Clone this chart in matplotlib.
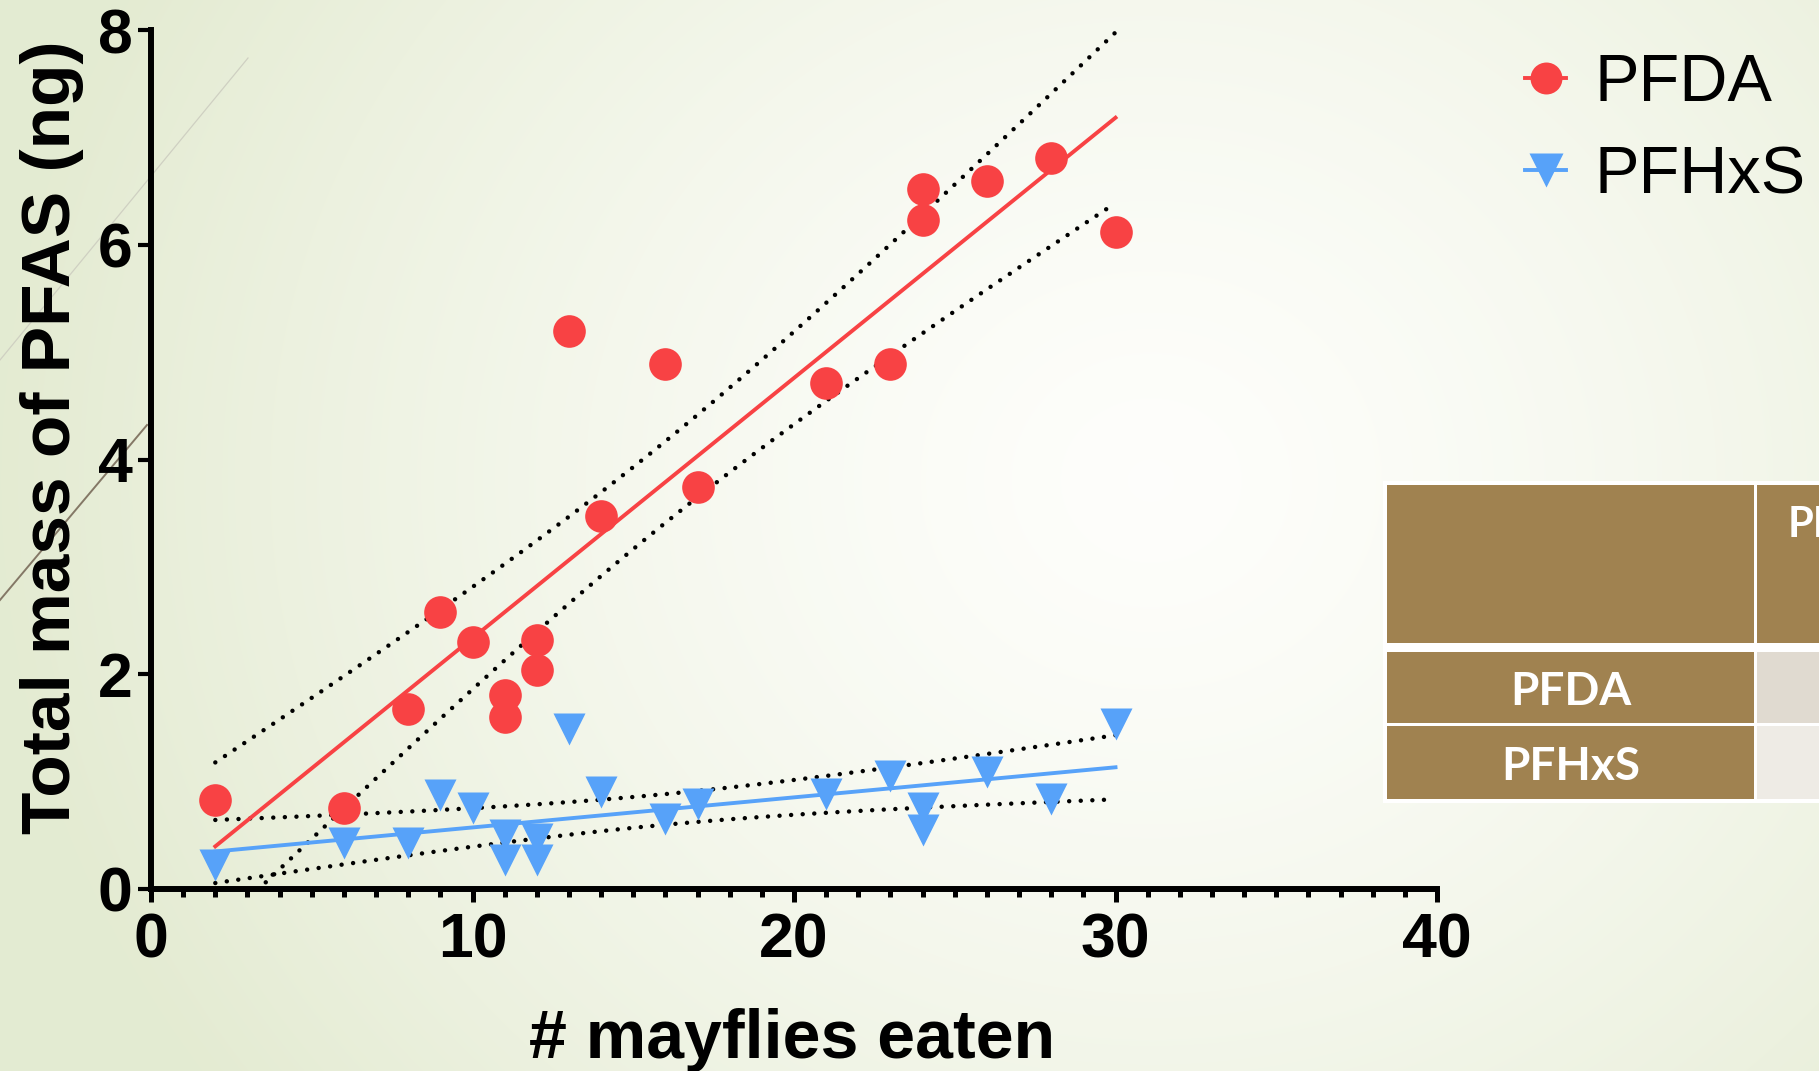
import numpy as np
import matplotlib
matplotlib.use("Agg")
import matplotlib.pyplot as plt
from matplotlib.lines import Line2D
from matplotlib.patches import Rectangle

# ---------------- data ----------------
mayflies = [2, 6, 8, 9, 10, 11, 11, 12, 12, 13, 14, 16, 17, 21, 23, 24, 24, 26, 28, 30]
pfda = [0.83, 0.75, 1.68, 2.58, 2.30, 1.81, 1.60, 2.32, 2.04, 5.20,
        3.47, 4.89, 3.74, 4.71, 4.885, 6.52, 6.23, 6.59, 6.81, 6.12]
pfhxs = [0.22, 0.43, 0.43, 0.88, 0.75, 0.50, 0.267, 0.47, 0.267, 1.49,
         0.90, 0.65, 0.79, 0.885, 1.05, 0.754, 0.546, 1.09, 0.835, 1.54]
series_names = ["PFDA", "PFHxS"]
x_ticks = [0, 10, 20, 30, 40]
y_ticks = [0, 2, 4, 6, 8]
x_label = "# mayflies eaten"
y_label = "Total mass of PFAS (ng)"
table_header = "PF"
table_rows = ["PFDA", "PFHxS"]
T_CRIT = 2.1009  # two-sided 95 %, df = 18

RED = "#F84244"
BLUE = "#57A2F9"

W, H = 1819, 1071
fig = plt.figure(figsize=(W / 100, H / 100), dpi=100)

# ---------------- slide background ----------------
bg = fig.add_axes([0, 0, 1, 1], zorder=-10)
yy, xx = np.mgrid[0:H, 0:W]
d = np.hypot(xx - 1150, (yy - 480) * 1.1) / 1150
t = np.clip(d, 0, 1) ** 1.4
c_center = np.array([0.995, 0.996, 0.985])
c_edge = np.array([0.894, 0.922, 0.824])
img = c_center + (c_edge - c_center) * t[..., None]
bg.imshow(img, extent=[0, W, H, 0], aspect="auto", interpolation="bilinear")
bg.set_xlim(0, W)
bg.set_ylim(H, 0)
bg.axis("off")
bg.plot([0, 248], [360, 58], color="#cfd0c2", lw=0.9)
bg.plot([0, 147], [600, 425], color="#847866", lw=1.4)

# ---------------- table (partially visible) ----------------
brown = "#A08250"
bg.add_patch(Rectangle((1383, 481), 460, 322, color="white", lw=0))
cells = [(1387, 485, 367, 158, brown), (1757, 485, 90, 158, brown),
         (1387, 652, 367, 71, brown), (1757, 652, 90, 71, "#E0DAD0"),
         (1387, 726, 367, 73, brown), (1757, 726, 90, 73, "#EEEBE5")]
for (cx, cy, cw, ch, cc) in cells:
    bg.add_patch(Rectangle((cx, cy), cw, ch, color=cc, lw=0))
bg.text(1788, 537, table_header, color="white", fontsize=30, fontweight="bold",
        family="Lato", ha="left", va="baseline")
for name, base in zip(table_rows, [705, 780]):
    bg.text(1571, base, name, color="white", fontsize=33, fontweight="bold",
            family="Lato", ha="center", va="baseline")

# ---------------- chart ----------------
ax = fig.add_axes([151 / W, 1 - 889 / H, (1437 - 151) / W, (889 - 30) / H])
ax.set_facecolor("none")


def fit_band(x, y):
    x = np.asarray(x, float)
    y = np.asarray(y, float)
    b, a = np.polyfit(x, y, 1)
    xs = np.linspace(x.min(), x.max(), 300)
    n = len(x)
    s = np.sqrt(np.sum((y - (a + b * x)) ** 2) / (n - 2))
    sxx = np.sum((x - x.mean()) ** 2)
    half = T_CRIT * s * np.sqrt(1 / n + (xs - x.mean()) ** 2 / sxx)
    fit = a + b * xs
    return xs, fit, fit - half, fit + half


dot_style = dict(color="black", lw=3.2, linestyle=(0, (0.01, 2.6)),
                 dash_capstyle="round", zorder=2)
for yv, col in [(pfda, RED), (pfhxs, BLUE)]:
    xs, fit, lo, hi = fit_band(mayflies, yv)
    ax.plot(xs, lo, **dot_style)
    ax.plot(xs, hi, **dot_style)
    ax.plot(xs, fit, color=col, lw=2.8, zorder=3)

ax.plot(mayflies, pfda, "o", ms=23.5, color=RED, mec="none", zorder=5, clip_on=False)
ax.plot(mayflies, pfhxs, "v", ms=23, color=BLUE, mec="none", zorder=4, clip_on=False)

ax.set_xlim(0, 40)
ax.set_ylim(0, 8)
ax.set_xticks(x_ticks)
ax.set_xticks(np.arange(x_ticks[0], x_ticks[-1] + 1, 1), minor=True)
ax.set_yticks(y_ticks)
for s in ["top", "right"]:
    ax.spines[s].set_visible(False)
for s in ["left", "bottom"]:
    ax.spines[s].set_linewidth(4.3)
ax.tick_params(axis="x", which="major", length=9, width=3.6, labelsize=45, pad=7)
ax.tick_params(axis="x", which="minor", length=5.4, width=3.6)
ax.tick_params(axis="y", which="major", length=9.4, width=3, labelsize=45, pad=4)
for lab in ax.get_xticklabels() + ax.get_yticklabels():
    lab.set_fontweight("bold")
    lab.set_family("Liberation Sans")

fig.text(52 / W, 1 - 437 / H, y_label, rotation=90, ha="center", va="center",
         fontsize=50, fontweight="bold", family="Liberation Sans")
fig.text(792 / W, 1 - 1058 / H, x_label, ha="center", va="baseline",
         fontsize=49, fontweight="bold", family="Liberation Sans")

handles = [Line2D([], [], color=RED, marker="o", ms=23, mec="none", lw=2.8),
           Line2D([], [], color=BLUE, marker="v", ms=24, mec="none", lw=2.8)]
fig.legend(handles, series_names, loc="upper left",
           bbox_to_anchor=(1525 / W, 1 - 53 / H), frameon=False,
           prop={"family": "Liberation Sans", "size": 48},
           handlelength=0.62, handletextpad=0.42, borderpad=0, borderaxespad=0,
           labelspacing=0.45)

fig.savefig("out.png", dpi=100)
